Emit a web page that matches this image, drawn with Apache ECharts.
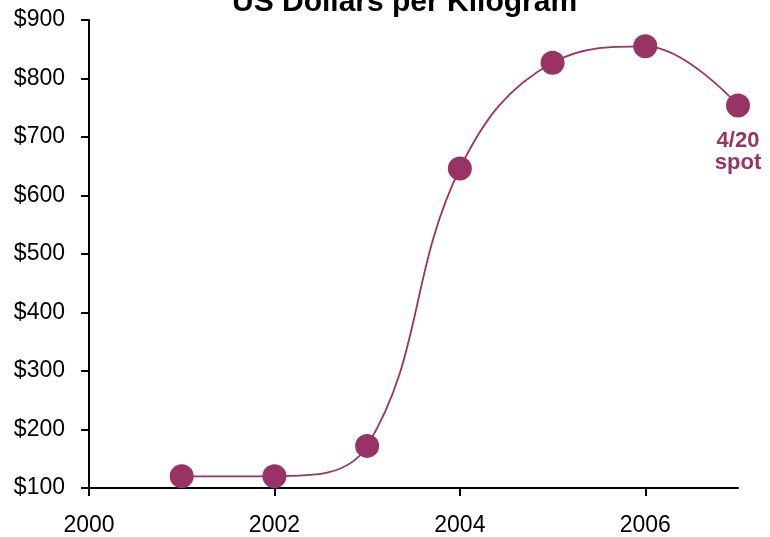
<!DOCTYPE html>
<html><head><meta charset="utf-8">
<script src="https://cdn.jsdelivr.net/npm/echarts@6/dist/echarts.min.js"></script>
<style>html,body{margin:0;padding:0;background:#fff}#c{width:770px;height:537px}</style>
</head><body><div id="c"></div>
<script>
var titleText = "US Dollars per Kilogram";
var years = [2001, 2002, 2003, 2004, 2005, 2006, 2007];
var prices = [120, 120, 172, 646, 827, 855, 754];
var xTicks = [2000, 2002, 2004, 2006];
var lastLabel = "4/20\nspot";

var chart = echarts.init(document.getElementById('c'));
var color = '#993366';
var font = 'Liberation Sans, Arial, sans-serif';
chart.setOption({
  animation: false,
  title: {text: titleText, left: 232, top: -12, padding: 0, textStyle: {fontFamily: font, fontWeight: 'bold', fontSize: 30, color: '#000'}},
  grid: {left: 89, right: 32, top: 20, bottom: 49},
  xAxis: {
    type: 'value', min: 2000, max: 2007, interval: 2,
    axisLine: {lineStyle: {color: '#000', width: 2}},
    axisTick: {show: true, length: 8, customValues: xTicks, lineStyle: {color: '#000', width: 2}},
    splitLine: {show: false},
    axisLabel: {fontFamily: font, fontSize: 23, color: '#000', margin: 26, customValues: xTicks,
      formatter: function(v){ return String(v); }}
  },
  yAxis: {
    type: 'value', min: 100, max: 900, interval: 100,
    axisLine: {show: true, lineStyle: {color: '#000', width: 2}},
    axisTick: {show: true, length: 8, lineStyle: {color: '#000', width: 2}},
    splitLine: {show: false},
    axisLabel: {fontFamily: font, fontSize: 23, color: '#000', margin: 24,
      formatter: function(v){ return '$' + v; }}
  },
  series: [{
    type: 'line', smooth: 0.4,
    data: years.map(function(y, i){
      var d = {value: [y, prices[i]]};
      if (i === years.length - 1) {
        d.label = {show: true, position: 'bottom', distance: 13, formatter: lastLabel,
          color: color, fontWeight: 'bold', fontSize: 22, lineHeight: 22, fontFamily: font};
      }
      return d;
    }),
    symbol: 'circle', symbolSize: 24,
    itemStyle: {color: color},
    lineStyle: {color: color, width: 1.8}
  }]
});
</script></body></html>
